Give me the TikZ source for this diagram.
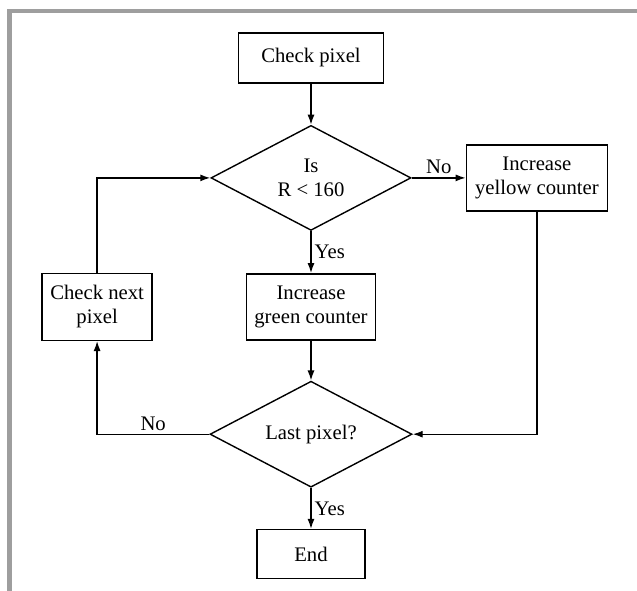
\documentclass[tikz,border=0pt]{standalone}
\usepackage{fontspec}
\setmainfont{Liberation Serif}
\usepackage{tikz}
\usetikzlibrary{arrows.meta,positioning,shapes.geometric}
\tikzset{
  stepbox/.style={draw, line width=1.4pt, align=center, inner sep=0pt},
  decision/.style={diamond, draw, line width=1.4pt, align=center, inner sep=0pt, aspect=1.9},
  lab/.style={inner sep=3pt},
  arrow/.style={-{Latex[length=10pt,width=7pt]}, line width=1.4pt},
  frame/.style={draw=black!38, line width=4.5pt},
}
\begin{document}
\begin{tikzpicture}[x=1pt, y=1pt, font=\fontsize{20.7}{24}\selectfont]
\useasboundingbox (0,0) rectangle (637,-591);
\draw[frame] (9.5,-591) |- (637,-11);

\node[stepbox, minimum width=145pt, minimum height=50pt] (check) at (311,-58) {Check pixel};
\node[decision, minimum width=200pt, minimum height=105pt, below=41pt of check] (isr) {Is\\R < 160};
\node[stepbox, minimum width=141pt, minimum height=66pt, right=54pt of isr] (yellow) {Increase\\yellow counter};
\node[stepbox, minimum width=129pt, minimum height=66pt, below=42pt of isr] (green) {Increase\\green counter};
\node[stepbox, minimum width=110pt, minimum height=67pt, left=93pt of green] (next) {Check next\\pixel};
\node[decision, minimum width=202pt, minimum height=106pt, below=40pt of green] (last) {Last pixel?};
\node[stepbox, minimum width=108pt, minimum height=49pt, below=41pt of last] (end) {End};

\draw[arrow] (check) -- (isr);
\draw[arrow] (isr) -- node[above, lab]{No} (yellow);
\draw[arrow] (isr) -- node[right, lab]{Yes} (green);
\draw[arrow] (green) -- (last);
\draw[arrow] (yellow.south) |- (last.east);
\draw[arrow] (last.west) -| node[above, lab, pos=0.25]{No} (next.south);
\draw[arrow] (next.north) |- (isr.west);
\draw[arrow] (last) -- node[right, lab]{Yes} (end);
\end{tikzpicture}
\end{document}
